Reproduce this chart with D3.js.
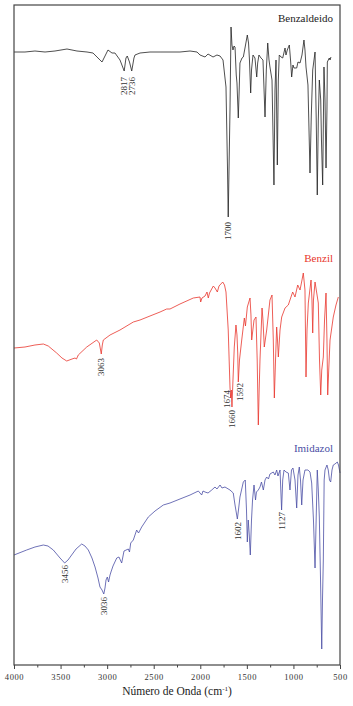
<!DOCTYPE html>
<html>
<head>
<meta charset="utf-8">
<script src="https://cdn.jsdelivr.net/npm/d3@7"></script>
<style>
  body { margin: 0; background: #fff; }
  text { font-family: "Liberation Serif", "DejaVu Serif", serif; }
</style>
</head>
<body>
<div id="chart"></div>
<script>
// wavenumbers (cm-1) and offset transmittance (a.u.)
var benzaldeidoWn = [4000,3882,3775,3667,3560,3431,3324,3216,3152,3109,3055,3023,2991,2948,2916,2862,2817,2798,2784,2760,2736,2712,2701,2647,2540,2432,2325,2218,2110,2035,2003,1949,1917,1863,1821,1788,1756,1724,1708,1700,1690,1681,1670,1660,1649,1638,1627,1614,1606,1592,1584,1574,1552,1538,1520,1495,1482,1472,1459,1450,1434,1413,1394,1384,1370,1348,1327,1305,1291,1276,1262,1252,1230,1209,1198,1187,1173,1162,1152,1133,1115,1090,1080,1066,1044,1031,1019,1005,994,965,951,929,908,887,876,865,844,822,808,793,768,755,744,733,722,707,699,686,677,672,661,650,640,636,615,607,597];
var benzaldeidoT = [61.3,61.3,61.4,61.3,61.4,61.6,61.4,61.3,61.2,60.8,60.3,60.9,61.5,61.2,61.2,60.5,59.4,60.7,60.9,60.3,59.4,60.7,61.0,61.2,61.3,61.3,61.3,61.3,61.4,61.3,61.0,60.8,61.1,60.8,61.0,60.9,60.5,57.8,49.8,44.8,50.5,55.5,63.8,62.0,61.5,61.9,61.8,59.0,58.2,54.7,57.0,60.2,60.7,60.8,61.7,63.0,62.2,60.5,57.2,59.5,61.0,60.7,58.8,60.2,61.0,60.7,60.5,54.8,59.5,62.2,60.5,59.8,58.5,48.0,57.5,60.5,50.0,58.5,61.0,60.8,60.7,61.7,61.0,61.5,62.0,60.5,58.8,60.0,59.7,59.7,60.3,60.2,61.0,62.5,61.5,59.8,58.0,49.2,55.0,59.5,61.3,54.5,47.0,54.5,58.5,56.5,52.5,48.0,55.5,59.8,56.5,49.7,55.5,60.3,60.7,60.5,60.8];

var benzilWn = [4000,3882,3775,3685,3632,3542,3485,3434,3377,3345,3329,3310,3219,3112,3084,3063,3052,3041,2969,2862,2719,2647,2540,2432,2361,2325,2218,2075,2003,1996,1982,1949,1928,1914,1901,1860,1842,1817,1799,1759,1740,1724,1700,1681,1674,1667,1660,1649,1635,1617,1606,1598,1592,1579,1555,1527,1515,1495,1466,1456,1448,1423,1402,1389,1377,1368,1359,1337,1327,1313,1287,1252,1230,1216,1205,1192,1180,1171,1162,1144,1126,1090,1055,1037,1008,983,954,929,908,894,876,865,854,840,811,801,793,785,768,733,720,707,696,679,666,650,640,632,621,607,572,543,518];
var benzilT = [31.7,31.8,32.0,32.1,31.9,31.2,30.7,30.4,30.6,30.7,30.6,31.0,31.8,32.5,32.2,31.1,32.0,32.5,33.0,33.5,34.3,34.5,34.9,35.3,35.6,35.6,36.1,36.7,36.8,36.3,36.7,36.9,37.3,36.7,37.2,37.9,37.7,37.3,37.9,38.3,38.0,37.3,33.5,27.8,26.7,27.5,25.8,28.5,31.8,34.0,33.0,31.2,28.3,30.5,32.5,34.7,33.9,35.8,36.7,35.0,32.5,34.5,34.8,30.5,24.0,27.5,30.5,35.7,34.5,31.8,33.5,36.5,37.0,32.5,26.7,30.5,33.8,32.5,30.8,33.5,34.8,35.7,36.0,36.5,37.3,36.8,38.0,37.5,38.5,39.2,37.5,28.8,33.5,36.2,38.5,36.5,33.2,36.5,38.3,36.2,30.5,27.0,29.5,30.8,34.5,37.2,32.5,27.0,29.5,32.5,34.8,36.0,36.8];

var imidazolWn = [4000,3864,3775,3685,3635,3578,3506,3456,3420,3381,3334,3273,3238,3202,3163,3130,3098,3077,3055,3036,3023,3012,2998,2985,2969,2959,2937,2897,2873,2844,2819,2773,2760,2747,2719,2683,2663,2629,2558,2486,2397,2325,2218,2110,2021,1985,1971,1949,1917,1877,1842,1821,1788,1767,1735,1681,1646,1627,1602,1590,1574,1538,1517,1504,1495,1485,1474,1463,1450,1439,1423,1407,1397,1377,1359,1343,1323,1305,1287,1268,1252,1216,1198,1180,1166,1144,1127,1115,1101,1080,1055,1037,1021,1005,983,965,951,937,924,911,897,876,844,822,804,785,768,756,744,733,722,709,696,688,679,670,661,640,626,613,600,586,572,554,529,516,500];
var imidazolT = [11.0,11.5,11.8,12.0,11.9,11.5,10.7,10.2,10.5,11.0,11.6,12.1,11.9,11.5,10.7,9.8,8.7,7.8,7.5,7.1,7.7,8.5,8.8,8.3,9.0,9.3,9.9,10.7,10.8,10.2,11.4,11.6,11.3,12.2,12.5,13.5,13.2,13.8,14.8,15.4,16.0,16.2,16.6,17.0,17.4,17.0,17.4,17.3,17.2,17.5,17.8,17.6,18.0,17.7,17.8,17.5,17.2,16.0,14.6,15.5,16.8,18.3,18.5,15.5,12.3,14.5,13.0,11.0,14.5,16.5,18.0,16.5,17.3,17.5,17.8,18.3,17.5,18.5,18.8,18.6,19.1,19.3,19.0,19.5,18.9,19.5,15.5,18.5,19.5,19.3,19.2,17.5,19.5,19.7,18.5,15.7,19.0,19.8,18.5,16.0,18.5,19.5,19.5,19.3,18.2,14.5,9.7,14.5,19.5,17.5,14.8,8.5,1.6,6.5,10.5,18.5,19.5,20.0,19.5,18.5,18.3,19.5,20.0,20.1,20.3,20.0,19.2];

// peak labels: text, wavenumber of label column, top of label (a.u.)
var benzaldeidoPeaks = ["2817","2736","1700"];
var benzaldeidoPeakWn = [2817,2736,1700];
var benzaldeidoPeakT = [58.8,58.8,44.3];
var benzilPeaks = ["3063","1674","1660","1592"];
var benzilPeakWn = [3063,1720,1660,1574];
var benzilPeakT = [30.7,27.5,25.5,28.2];
var imidazolPeaks = ["3456","3036","1602","1127"];
var imidazolPeakWn = [3456,3036,1602,1127];
var imidazolPeakT = [10.0,6.8,14.3,15.3];

var seriesNames = ["Benzaldeido","Benzil","Imidazol"];
var seriesNameT = [64.3,40.3,21.3];

var xMajor = [4000,3500,3000,2500,2000,1500,1000,500];
var xMinor = [3750,3250,2750,2250,1750,1250,750];

function main()
{
    var svgWidth = 353;
    var svgHeight = 706;
    var margin = {top: 5, right: 13, bottom: 41, left: 14};
    var width = svgWidth - margin.left - margin.right;
    var height = svgHeight - margin.top - margin.bottom;

    var svg = d3.select("#chart").append("svg")
        .attr("width", svgWidth)
        .attr("height", svgHeight);

    var g = svg.append("g")
        .attr("transform", "translate(" + margin.left + "," + margin.top + ")");

    var x = d3.scaleLinear().domain([4000, 500]).range([0, width]);
    var y = d3.scaleLinear().domain([0, 66]).range([height, 0]);

    var colors = ["#222222", "#e8352c", "#4a4ea4"];
    var wns = [benzaldeidoWn, benzilWn, imidazolWn];
    var ts = [benzaldeidoT, benzilT, imidazolT];

    var line = d3.line()
        .x(function(d) { return x(d[0]); })
        .y(function(d) { return y(d[1]); });

    // spectra
    for (var i = 0; i < 3; i++) {
        var pts = d3.zip(wns[i], ts[i]);
        g.append("path")
            .datum(pts)
            .attr("fill", "none")
            .attr("stroke", colors[i])
            .attr("stroke-width", 0.8)
            .attr("stroke-linejoin", "round")
            .attr("d", line);

        g.append("text")
            .attr("x", width - 7)
            .attr("y", y(seriesNameT[i]))
            .attr("text-anchor", "end")
            .attr("font-size", "11px")
            .attr("fill", i == 0 ? "#222" : colors[i])
            .text(seriesNames[i]);
    }

    // peak labels (rotated)
    var peakSets = [
        [benzaldeidoPeaks, benzaldeidoPeakWn, benzaldeidoPeakT],
        [benzilPeaks, benzilPeakWn, benzilPeakT],
        [imidazolPeaks, imidazolPeakWn, imidazolPeakT]
    ];
    peakSets.forEach(function(s) {
        s[0].forEach(function(lbl, j) {
            var px = x(s[1][j]), py = y(s[2][j]);
            g.append("text")
                .attr("transform", "translate(" + px + "," + py + ") rotate(-90)")
                .attr("text-anchor", "end")
                .attr("dy", "0.35em")
                .attr("font-size", "9px")
                .attr("fill", "#333")
                .text(lbl);
        });
    });

    // bottom axis, major + minor ticks
    var axis = g.append("g")
        .attr("transform", "translate(0," + height + ")")
        .call(d3.axisBottom(x).tickValues(xMajor).tickSize(4).tickPadding(5).tickFormat(d3.format("d")));
    axis.select(".domain").remove();
    axis.selectAll("line").attr("stroke", "#444");
    axis.selectAll("text")
        .attr("font-family", "Liberation Serif")
        .attr("font-size", "8.5px")
        .attr("letter-spacing", "0.6px")
        .attr("fill", "#333");

    g.append("g")
        .attr("transform", "translate(0," + height + ")")
        .call(d3.axisBottom(x).tickValues(xMinor).tickSize(2.5).tickFormat(""))
        .call(function(a) { a.select(".domain").remove(); a.selectAll("line").attr("stroke", "#444"); });

    // frame
    g.append("rect")
        .attr("x", 0).attr("y", 0)
        .attr("width", width).attr("height", height)
        .attr("fill", "none")
        .attr("stroke", "#444")
        .attr("stroke-width", 1.2);

    // axis title
    var title = svg.append("text")
        .attr("x", margin.left + width / 2)
        .attr("y", svgHeight - 11)
        .attr("text-anchor", "middle")
        .attr("font-size", "11.5px")
        .attr("fill", "#222");
    title.append("tspan").text("Número de Onda (cm");
    title.append("tspan").attr("font-size", "7px").attr("dy", "-4").text("-1");
    title.append("tspan").attr("dy", "4").text(")");
}
main();
</script>
</body>
</html>
